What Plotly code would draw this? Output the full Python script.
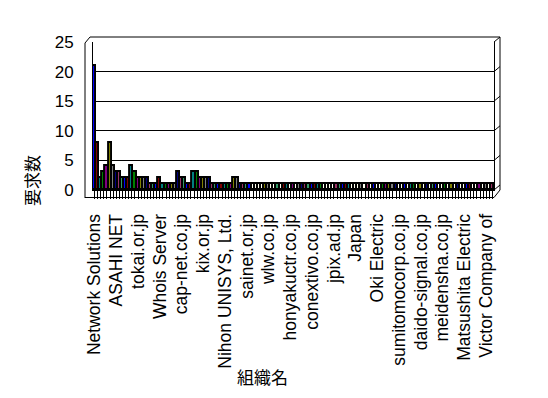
import plotly.graph_objects as go

# ---- data ----
values = [21, 8, 2, 3, 4, 8, 4, 3, 3, 2, 2, 2, 4, 3, 2, 2, 2, 2, 1, 1,
          1, 2, 1, 1, 1, 1, 1, 3, 2, 2, 1, 1, 3, 3, 2, 2, 2, 2, 1, 1,
          1, 1, 1, 1, 1, 2, 2, 1, 1, 1, 1, 1, 1, 1, 1, 1, 1, 1, 1, 1,
          1, 1, 1, 1, 1, 1, 1, 1, 1, 1, 1, 1, 1, 1, 1, 1, 1, 1, 1, 1,
          1, 1, 1, 1, 1, 1, 1, 1, 1, 1, 1, 1, 1, 1, 1, 1, 1, 1, 1, 1,
          1, 1, 1, 1, 1, 1, 1, 1, 1, 1, 1, 1, 1, 1, 1, 1, 1, 1, 1, 1,
          1, 1, 1, 1, 1, 1, 1, 1, 1]
label_names = ["Network Solutions", "ASAHI NET", "tokai.or.jp", "Whois Server",
               "cap-net.co.jp", "kix.or.jp", "Nihon UNISYS, Ltd.", "sainet.or.jp",
               "wlw.co.jp", "honyakuctr.co.jp", "conextivo.co.jp", "jpix.ad.jp",
               "Japan", "Oki Electric", "sumitomocorp.co.jp", "daido-signal.co.jp",
               "meidensha.co.jp", "Matsushita Electric", "Victor Company of"]
label_step = 7
y_ticks = [0, 5, 10, 15, 20, 25]
x_title = "組織名"
y_title = "要求数"

# ---- styling ----
W, H = 548, 398
ML, MR, MT, MB = 93, 54, 42, 208
palette = ["#0000FF", "#800000", "#008080", "#008000", "#800080", "#808000",
           "#808080", "#000080", "#993366", "#339966"]
pale_color = "#FFFFF0"
# bars whose (pale) fill shows as a white slit in the picture
pale_bars = [51, 52, 53, 54, 57, 58, 60, 63, 65, 74, 75, 76, 77, 83, 84, 85, 87, 89,
             91, 92, 98, 99, 101, 104, 106, 108, 111, 112, 114, 116, 118, 119, 122,
             123, 125, 127]

n = len(values)
xs = list(range(n))
ticktext = [label_names[i // label_step] if i % label_step == 0 and i // label_step < len(label_names) else ""
            for i in xs]
colors = [pale_color if i in pale_bars else palette[i % len(palette)] for i in xs]


def px(x):
    return (x - ML) / (W - ML - MR)


def py(y):
    return 1 - (y - MT) / (H - MT - MB)


fig = go.Figure()
fig.add_bar(x=xs, y=values, width=1,
            marker=dict(color=colors, line=dict(color="black", width=1.9)))

lat = "Liberation Sans, Arial, sans-serif"
cjk = "Noto Sans CJK JP, sans-serif"

fig.update_layout(
    width=W, height=H,
    margin=dict(l=ML, r=MR, t=MT, b=MB, pad=0),
    paper_bgcolor="white", plot_bgcolor="white",
    showlegend=False, bargap=0,
    font=dict(family=lat, size=16, color="black"),
    xaxis=dict(range=[-0.5, n - 0.5], tickmode="array", tickvals=xs, ticktext=ticktext,
               tickangle=-90, ticks="outside", ticklen=8, tickwidth=1, tickcolor="black",
               ticklabelstandoff=8, tickfont=dict(family=lat, size=17.5),
               showline=True, linecolor="black", linewidth=1,
               showgrid=False, zeroline=False),
    yaxis=dict(range=[0, 25], tickmode="array", tickvals=y_ticks,
               ticks="", ticklabelstandoff=15, tickfont=dict(family=lat, size=17),
               showgrid=True, gridcolor="black", gridwidth=1,
               showline=True, mirror=True, linecolor="black", linewidth=1,
               zeroline=False),
)

# 3D-style frame decorations
seg = [((85, 43), (85, 198)), ((85, 43), (90, 37)), ((90, 37), (500, 37)),
       ((500, 37), (500, 190)), ((500, 190), (494, 197.5)), ((85, 197.5), (494, 197.5))]
for yv in y_ticks:
    ypx = MT + (1 - yv / 25) * (H - MT - MB)
    seg.append(((494, ypx), (500, ypx - 5)))
for (x0, y0), (x1, y1) in seg:
    fig.add_shape(type="line", xref="paper", yref="paper",
                  x0=px(x0), y0=py(y0), x1=px(x1), y1=py(y1),
                  line=dict(color="black", width=1))

fig.add_annotation(text=y_title, xref="paper", yref="paper", x=px(31), y=py(181),
                   xanchor="center", yanchor="middle",
                   showarrow=False, textangle=-90, font=dict(family=cjk, size=17))
fig.add_annotation(text=x_title, xref="paper", yref="paper", x=px(262), y=py(376),
                   xanchor="center", yanchor="middle",
                   showarrow=False, font=dict(family=cjk, size=17))

fig.write_html("out.html")
